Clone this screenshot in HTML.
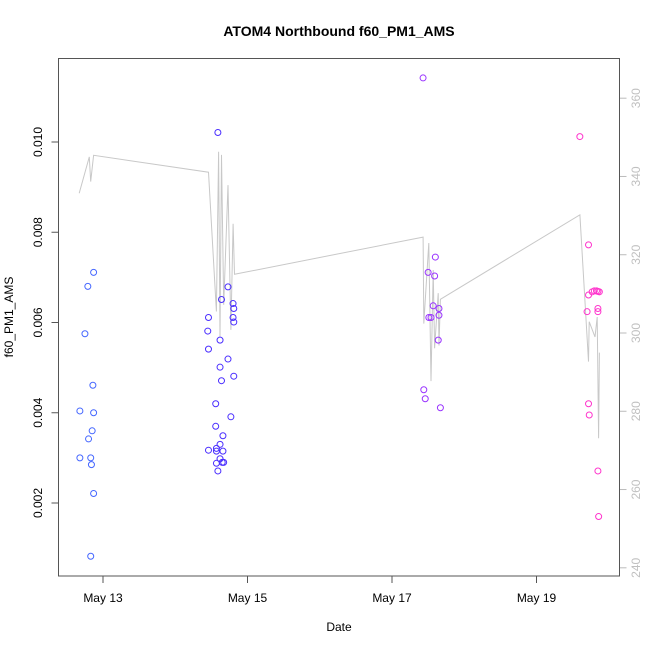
<!DOCTYPE html>
<html><head><meta charset="utf-8"><style>
body{margin:0;background:#fff}
svg{display:block;font-family:"Liberation Sans",Arial,sans-serif}
</style></head><body>
<svg id="chart" width="650" height="650" xmlns="http://www.w3.org/2000/svg">
<text x="339" y="36" text-anchor="middle" font-size="14" font-weight="bold">ATOM4 Northbound f60_PM1_AMS</text>
<text x="339" y="631" text-anchor="middle" font-size="12">Date</text>
<text transform="translate(13,317) rotate(-90)" text-anchor="middle" font-size="12">f60_PM1_AMS</text>
<g id="lineG"></g>
<g id="ptsG"></g>
<g id="axG"></g>
<rect x="58.5" y="58.5" width="561" height="517.5" fill="none" stroke="#555" stroke-width="1"/>
</svg>
<script>
const groupColors = ["#4466ff","#4a2eff","#9933ff","#ff33cc"];
const g1Days = [12.87,12.79,12.75,12.86,12.68,12.87,12.85,12.80,12.68,12.83,12.84,12.87,12.83];
const g1Vals = [0.00711,0.00680,0.00575,0.00461,0.00404,0.00400,0.00360,0.00342,0.00300,0.00300,0.00285,0.00221,0.00082];
const g2Days = [14.59,14.73,14.64,14.80,14.81,14.46,14.80,14.81,14.45,14.62,14.46,14.73,14.62,14.64,14.81,14.56,14.77,14.56,14.66,14.62,14.46,14.57,14.57,14.66,14.62,14.65,14.67,14.57,14.59];
const g2Vals = [0.01021,0.00679,0.00651,0.00642,0.00631,0.00611,0.00611,0.00601,0.00581,0.00561,0.00541,0.00519,0.00501,0.00471,0.00481,0.00420,0.00391,0.00370,0.00349,0.00330,0.00317,0.00321,0.00315,0.00315,0.00298,0.00290,0.00290,0.00288,0.00271];
const g3Days = [17.43,17.60,17.50,17.59,17.57,17.65,17.65,17.51,17.54,17.64,17.44,17.46,17.67];
const g3Vals = [0.01142,0.00745,0.00711,0.00703,0.00637,0.00631,0.00616,0.00611,0.00611,0.00561,0.00451,0.00431,0.00411];
const g4Days = [19.60,19.72,19.77,19.72,19.80,19.83,19.87,19.85,19.70,19.85,19.85,19.72,19.73,19.85,19.86];
const g4Vals = [0.01012,0.00772,0.00668,0.00661,0.00670,0.00670,0.00668,0.00669,0.00624,0.00631,0.00624,0.00420,0.00395,0.00271,0.00170];
const lineDays = [12.67,12.81,12.83,12.87,14.46,14.57,14.60,14.62,14.64,14.67,14.73,14.77,14.80,14.82,17.43,17.44,17.51,17.54,17.57,17.59,17.64,17.65,17.67,19.60,19.72,19.73,19.81,19.84,19.86,19.87];
const lineVals = [335.7,345.0,338.7,345.4,341.1,305.5,346.3,299.0,345.5,307.2,337.8,300.8,327.9,315.0,324.5,302.4,323.0,287.7,316.1,296.1,310.2,296.8,308.6,330.2,292.7,302.9,299.0,304.1,273.1,295.0];
const xTickDays = [13,15,17,19];
const xTickLabels = ["May 13","May 15","May 17","May 19"];
const yTicks = [0.002,0.004,0.006,0.008,0.010];
const yTickLabels = ["0.002","0.004","0.006","0.008","0.010"];
const y2Ticks = [240,260,280,300,320,340,360];
const y2TickLabels = ["240","260","280","300","320","340","360"];

const NS="http://www.w3.org/2000/svg";
const xS = d => 103 + (d-13)*72.25;
const yS = v => 503 - (v-0.002)/0.002*90.25;
const y2S = r => 567.8 - (r-240)*(469.6/120);
function mk(tag, attrs, parent){const e=document.createElementNS(NS,tag);for(const k in attrs)e.setAttribute(k,attrs[k]);parent.appendChild(e);return e;}
const lineG=document.getElementById('lineG'), ptsG=document.getElementById('ptsG'), axG=document.getElementById('axG');

const pts = lineDays.map((d,i)=>xS(d).toFixed(1)+","+y2S(lineVals[i]).toFixed(1)).join(" ");
const pl = mk('polyline',{points:pts,fill:"none",stroke:"#c8c8c8","stroke-width":1},lineG);



const groups=[[g1Days,g1Vals],[g2Days,g2Vals],[g3Days,g3Vals],[g4Days,g4Vals]];
groups.forEach((g,gi)=>{
  g[0].forEach((d,i)=>{
    const c=mk('circle',{cx:xS(d),cy:yS(g[1][i]),r:3,fill:"none",stroke:groupColors[gi],"stroke-width":1},ptsG);
    
    
  });
});

xTickDays.forEach((d,i)=>{
  const x=xS(d);
  const t=mk('line',{x1:x,x2:x,y1:576,y2:583,stroke:"#555"},axG);
  
  
  const l=mk('text',{x:x,y:602,"text-anchor":"middle","font-size":12},axG);
  l.textContent=xTickLabels[i];
  
  
});
yTicks.forEach((v,i)=>{
  const y=yS(v);
  const t=mk('line',{x1:51.5,x2:58.5,y1:y,y2:y,stroke:"#555"},axG);
  
  
  const l=mk('text',{transform:`translate(42,${y}) rotate(-90)`,"text-anchor":"middle","font-size":12},axG);
  l.textContent=yTickLabels[i];
  
  
});
y2Ticks.forEach((v,i)=>{
  const y=y2S(v);
  const t=mk('line',{x1:619.5,x2:626.5,y1:y,y2:y,stroke:"#bbb"},axG);
  
  
  const l=mk('text',{transform:`translate(640,${y}) rotate(-90)`,"text-anchor":"middle","font-size":12,fill:"#c0c0c0"},axG);
  l.textContent=y2TickLabels[i];
  
  
});
</script>
</body></html>
